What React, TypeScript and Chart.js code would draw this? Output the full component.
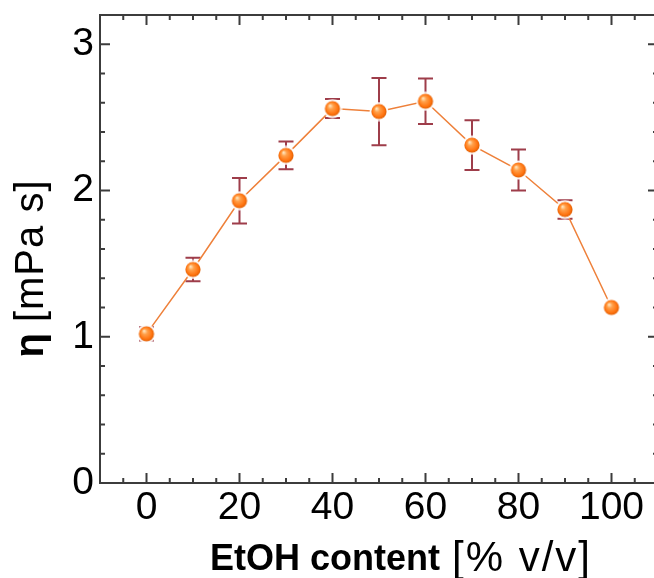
import React, { useEffect, useRef } from "react";
import { Chart, registerables } from "chart.js";

Chart.register(...registerables);

// ---- data ----
const ethanolContent = [0, 10, 20, 30, 40, 50, 60, 70, 80, 90, 100];
const viscosity = [1.02, 1.46, 1.93, 2.24, 2.56, 2.54, 2.61, 2.31, 2.14, 1.87, 1.2];
const viscosityError = [0.045, 0.08, 0.155, 0.095, 0.065, 0.23, 0.155, 0.17, 0.14, 0.063, 0];
const xTickValues = [0, 20, 40, 60, 80, 100];
const yTickValues = [0, 1, 2, 3];
const xMinorStep = 5;
const yMinorStep = 0.2;
const xLimits = [-10, 110];
const yLimits = [0, 3.2];
const xTitleBold = "EtOH content";
const xTitleRegular = "[% v/v]";
const yTitleBold = "η";
const yTitleRegular = "[mPa s]";

const FONT = "'Liberation Sans', Arial, Helvetica, sans-serif";
const FRAME = "#3c3c3c";

function makeMarker(): HTMLCanvasElement {
  const c = document.createElement("canvas");
  c.width = 20;
  c.height = 20;
  const g = c.getContext("2d")!;
  g.fillStyle = "rgba(255,255,255,0.95)";
  g.beginPath();
  g.arc(10, 10, 9.5, 0, Math.PI * 2);
  g.fill();
  const grad = g.createRadialGradient(7.5, 7, 0.5, 10, 10, 8);
  grad.addColorStop(0, "#ffe2b8");
  grad.addColorStop(0.3, "#ffa04a");
  grad.addColorStop(0.75, "#ff7410");
  grad.addColorStop(1, "#d95a00");
  g.fillStyle = grad;
  g.beginPath();
  g.arc(10, 10, 7.6, 0, Math.PI * 2);
  g.fill();
  return c;
}

const errorBarPlugin = {
  id: "errorBars",
  beforeDatasetsDraw(chart: any) {
    const { ctx } = chart;
    const xs = chart.scales.x;
    const ys = chart.scales.y;
    ctx.save();
    ctx.strokeStyle = "#9e3d4a";
    ctx.lineWidth = 2;
    ethanolContent.forEach((xv, i) => {
      const e = viscosityError[i];
      if (!e) return;
      const px = xs.getPixelForValue(xv);
      const top = ys.getPixelForValue(viscosity[i] + e);
      const bot = ys.getPixelForValue(viscosity[i] - e);
      ctx.beginPath();
      ctx.moveTo(px, top);
      ctx.lineTo(px, bot);
      ctx.moveTo(px - 7.5, top);
      ctx.lineTo(px + 7.5, top);
      ctx.moveTo(px - 7.5, bot);
      ctx.lineTo(px + 7.5, bot);
      ctx.stroke();
    });
    ctx.restore();
  },
};

const framePlugin = {
  id: "frameAndTitles",
  afterDraw(chart: any) {
    const { ctx, chartArea } = chart;
    const { left, right, top, bottom } = chartArea;
    const xs = chart.scales.x;
    const ys = chart.scales.y;
    ctx.save();
    ctx.strokeStyle = FRAME;
    ctx.lineWidth = 2;
    ctx.strokeRect(left, top, right - left, bottom - top);
    ctx.beginPath();
    const nx = Math.round((xLimits[1] - xLimits[0]) / xMinorStep);
    for (let i = 0; i <= nx; i++) {
      const v = Math.round((xLimits[0] + i * xMinorStep) * 1000) / 1000;
      const px = xs.getPixelForValue(v);
      const len = xTickValues.includes(v) ? 10 : 5;
      ctx.moveTo(px, bottom);
      ctx.lineTo(px, bottom - len);
      ctx.moveTo(px, top);
      ctx.lineTo(px, top + len);
    }
    const ny = Math.round((yLimits[1] - yLimits[0]) / yMinorStep);
    for (let i = 0; i <= ny; i++) {
      const v = Math.round((yLimits[0] + i * yMinorStep) * 1000) / 1000;
      const py = ys.getPixelForValue(v);
      const len = yTickValues.includes(v) ? 10 : 5;
      ctx.moveTo(left, py);
      ctx.lineTo(left + len, py);
      ctx.moveTo(right, py);
      ctx.lineTo(right - len, py);
    }
    ctx.stroke();

    // x title
    ctx.fillStyle = "#000";
    ctx.textBaseline = "alphabetic";
    ctx.textAlign = "left";
    const boldX = `bold 36px ${FONT}`;
    const regX = `42px ${FONT}`;
    ctx.font = boldX;
    const wb = ctx.measureText(xTitleBold).width;
    const gapX = 12;
    ctx.font = regX;
    (ctx as any).letterSpacing = "2px";
    const wr = ctx.measureText(xTitleRegular).width;
    const startX = 401 - (wb + gapX + wr) / 2;
    (ctx as any).letterSpacing = "0px";
    ctx.font = boldX;
    ctx.fillText(xTitleBold, startX, 570);
    ctx.font = regX;
    (ctx as any).letterSpacing = "2px";
    ctx.fillText(xTitleRegular, startX + wb + gapX, 571);
    (ctx as any).letterSpacing = "0px";

    // y title
    ctx.translate(43, 268.5);
    ctx.rotate(-Math.PI / 2);
    const boldY = `bold 40px ${FONT}`;
    const regY = `40px ${FONT}`;
    ctx.font = boldY;
    const yb = ctx.measureText(yTitleBold).width;
    const gapY = 11;
    ctx.font = regY;
    (ctx as any).letterSpacing = "1px";
    const yr = ctx.measureText(yTitleRegular).width;
    (ctx as any).letterSpacing = "0px";
    const sy = -(yb + gapY + yr) / 2;
    ctx.font = boldY;
    ctx.fillText(yTitleBold, sy, 0);
    ctx.font = regY;
    (ctx as any).letterSpacing = "1px";
    ctx.fillText(yTitleRegular, sy + yb + gapY, 0);
    (ctx as any).letterSpacing = "0px";
    ctx.restore();
  },
};

export default function App() {
  const ref = useRef<HTMLCanvasElement>(null);
  useEffect(() => {
    if (!ref.current) return;
    const marker = makeMarker();
    const chart = new Chart(ref.current, {
      type: "line",
      data: {
        datasets: [
          {
            data: ethanolContent.map((x, i) => ({ x, y: viscosity[i] })),
            borderColor: "rgb(238,128,58)",
            borderWidth: 1.5,
            pointStyle: marker as any,
            pointRadius: 8,
            pointHoverRadius: 8,
            fill: false,
            tension: 0,
          },
        ],
      },
      options: {
        animation: false,
        responsive: false,
        devicePixelRatio: 1,
        layout: { padding: { top: 15, right: 12, left: 0, bottom: 0 } },
        plugins: { legend: { display: false }, tooltip: { enabled: false } },
        scales: {
          x: {
            type: "linear",
            min: xLimits[0],
            max: xLimits[1],
            afterBuildTicks: (s: any) => {
              s.ticks = xTickValues.map((value) => ({ value }));
            },
            afterFit: (s: any) => {
              s.height = 95;
              s.paddingLeft = 0;
              s.paddingRight = 0;
            },
            grid: { display: false, drawTicks: false },
            border: { display: false },
            ticks: {
              padding: 2,
              maxRotation: 0,
              autoSkip: false,
              color: "#000",
              font: { family: FONT, size: 39 },
            },
          },
          y: {
            type: "linear",
            min: yLimits[0],
            max: yLimits[1],
            afterBuildTicks: (s: any) => {
              s.ticks = yTickValues.map((value) => ({ value }));
            },
            afterFit: (s: any) => {
              s.width = 100;
              s.paddingTop = 0;
              s.paddingBottom = 0;
            },
            grid: { display: false, drawTicks: false },
            border: { display: false },
            ticks: {
              padding: 6,
              autoSkip: false,
              color: "#000",
              font: { family: FONT, size: 39 },
            },
          },
        },
      },
      plugins: [errorBarPlugin, framePlugin],
    });
    return () => chart.destroy();
  }, []);
  return (
    <div
      style={{
        position: "fixed",
        left: 0,
        top: 0,
        width: 654,
        height: 578,
        overflow: "hidden",
        background: "#fff",
      }}
    >
      <canvas ref={ref} width={670} height={578} style={{ width: 670, height: 578, display: "block" }} />
    </div>
  );
}
